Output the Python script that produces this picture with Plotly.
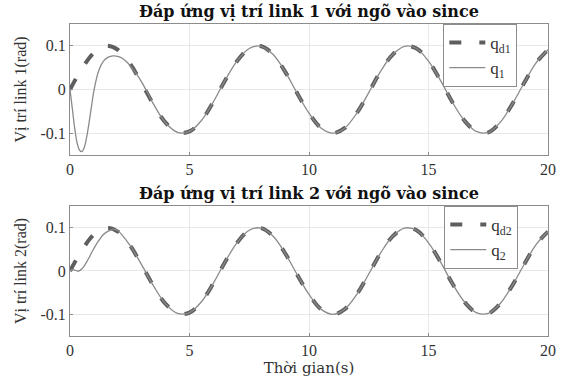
import plotly.graph_objects as go

# Desired trajectory (same for both links)
t_d = [0, 0.5, 1, 1.5, 2, 2.5, 3, 3.5, 4, 4.5, 5, 5.5, 6, 6.5, 7, 7.5, 8, 8.5, 9, 9.5,
       10, 10.5, 11, 11.5, 12, 12.5, 13, 13.5, 14, 14.5, 15, 15.5, 16, 16.5, 17, 17.5,
       18, 18.5, 19, 19.5, 20]
q_d = [0.000, 0.048, 0.084, 0.100, 0.091, 0.060, 0.014, -0.035, -0.076, -0.098, -0.096,
       -0.071, -0.028, 0.022, 0.066, 0.094, 0.099, 0.080, 0.041, -0.008, -0.054, -0.088,
       -0.100, -0.088, -0.054, -0.007, 0.042, 0.080, 0.099, 0.094, 0.065, 0.021, -0.029,
       -0.071, -0.096, -0.098, -0.075, -0.034, 0.015, 0.061, 0.091]

# Link 1 actual response
t_1 = [0, 0.1, 0.2, 0.3, 0.4, 0.5, 0.6, 0.7, 0.8, 0.9, 1.0, 1.2, 1.4, 1.6, 1.8, 2.0,
       2.2, 2.4, 2.6, 2.8, 3.0, 3.25, 3.5, 4, 4.5, 5, 5.5, 6, 6.5, 7, 7.5, 8, 8.5, 9, 9.5,
       10, 10.5, 11, 11.5, 12, 12.5, 13, 13.5, 14, 14.5, 15, 15.5, 16, 16.5, 17, 17.5,
       18, 18.5, 19, 19.5, 20]
q_1 = [0.000, -0.045, -0.090, -0.123, -0.139, -0.142, -0.132, -0.108, -0.075, -0.038,
       -0.003, 0.043, 0.065, 0.074, 0.077, 0.076, 0.071, 0.062, 0.049, 0.034, 0.017,
       -0.008, -0.034, -0.076, -0.098, -0.096, -0.071, -0.028, 0.022, 0.066, 0.094,
       0.099, 0.080, 0.041, -0.008, -0.054, -0.088, -0.100, -0.088, -0.054, -0.007,
       0.042, 0.080, 0.099, 0.094, 0.065, 0.021, -0.029, -0.071, -0.096, -0.098,
       -0.075, -0.034, 0.015, 0.061, 0.091]

# Link 2 actual response
t_2 = [0, 0.1, 0.2, 0.3, 0.4, 0.5, 0.6, 0.7, 0.8, 0.9, 1.0, 1.2, 1.4, 1.6, 1.8, 2.0,
       2.5, 3, 3.5, 4, 4.5, 5, 5.5, 6, 6.5, 7, 7.5, 8, 8.5, 9, 9.5,
       10, 10.5, 11, 11.5, 12, 12.5, 13, 13.5, 14, 14.5, 15, 15.5, 16, 16.5, 17, 17.5,
       18, 18.5, 19, 19.5, 20]
q_2 = [0.000, 0.003, 0.002, 0.000, 0.001, 0.005, 0.012, 0.021, 0.031, 0.042, 0.052,
       0.070, 0.084, 0.092, 0.096, 0.093, 0.060, 0.014, -0.035, -0.076, -0.098, -0.096,
       -0.071, -0.028, 0.022, 0.066, 0.094, 0.099, 0.080, 0.041, -0.008, -0.054, -0.088,
       -0.100, -0.088, -0.054, -0.007, 0.042, 0.080, 0.099, 0.094, 0.065, 0.021, -0.029,
       -0.071, -0.096, -0.098, -0.075, -0.034, 0.015, 0.061, 0.091]

x_ticks = [0, 5, 10, 15, 20]
y_ticks = [-0.1, 0, 0.1]
y_tick_text = ["-0.1", "0", "0.1"]

titles = ["Đáp ứng vị trí link 1 với ngõ vào since", "Đáp ứng vị trí link 2 với ngõ vào since"]
y_titles = ["Vị trí link 1(rad)", "Vị trí link 2(rad)"]
x_title = "Thời gian(s)"

FONT = "Liberation Serif"
WIDE_FONT = "DejaVu Serif"
DASH_COLOR = "#5e5e5e"
LINE_COLOR = "#8a8a8a"
TXT = "#333333"

fig = go.Figure()

dash_line = dict(color=DASH_COLOR, width=4, dash="12px,18px", shape="spline")
solid_line = dict(color=LINE_COLOR, width=1.3, shape="spline")

fig.add_trace(go.Scatter(x=t_d, y=q_d, mode="lines", name="q<sub>d1</sub>", line=dash_line,
                         xaxis="x", yaxis="y", legend="legend"))
fig.add_trace(go.Scatter(x=t_1, y=q_1, mode="lines", name="q<sub>1</sub>", line=solid_line,
                         xaxis="x", yaxis="y", legend="legend"))
fig.add_trace(go.Scatter(x=t_d, y=q_d, mode="lines", name="q<sub>d2</sub>", line=dash_line,
                         xaxis="x2", yaxis="y2", legend="legend2"))
fig.add_trace(go.Scatter(x=t_2, y=q_2, mode="lines", name="q<sub>2</sub>", line=solid_line,
                         xaxis="x2", yaxis="y2", legend="legend2"))

axis_common = dict(showline=True, linecolor="#8c8c8c", linewidth=1, mirror=True,
                   showgrid=True, gridcolor="#e8e8e8", gridwidth=1, zeroline=False,
                   ticks="inside", ticklen=3, tickcolor="#8c8c8c", automargin=False,
                   tickfont=dict(family=FONT, size=16, color=TXT))

legend_common = dict(xanchor="left", yanchor="top",
                     bgcolor="white", bordercolor="#8c8c8c", borderwidth=1,
                     font=dict(family=FONT, size=17, color=TXT),
                     tracegroupgap=0, itemwidth=36)

fig.update_layout(
    width=562, height=381,
    margin=dict(l=70, r=14, t=24, b=45),
    paper_bgcolor="white", plot_bgcolor="white",
    showlegend=True,
    xaxis=dict(domain=[0, 1], range=[0, 20], tickvals=x_ticks, anchor="y", **axis_common),
    yaxis=dict(domain=[0.58, 1], range=[-0.15, 0.15], tickvals=y_ticks, ticktext=y_tick_text,
               anchor="x",
               title=dict(text=y_titles[0], font=dict(family=FONT, size=16, color=TXT),
                          standoff=9),
               **axis_common),
    xaxis2=dict(domain=[0, 1], range=[0, 20], tickvals=x_ticks, anchor="y2",
                title=dict(text=x_title, font=dict(family=WIDE_FONT, size=15, color=TXT),
                           standoff=4),
                **axis_common),
    yaxis2=dict(domain=[0, 0.4167], range=[-0.15, 0.15], tickvals=y_ticks, ticktext=y_tick_text,
                anchor="x2",
                title=dict(text=y_titles[1], font=dict(family=FONT, size=16, color=TXT),
                           standoff=9),
                **axis_common),
    legend=dict(x=0.781, y=1.0, **legend_common),
    legend2=dict(x=0.783, y=0.4167, **legend_common),
    annotations=[
        dict(text="<b>" + titles[0] + "</b>", xref="paper", yref="paper", x=0.5, y=1.0,
             xanchor="center", yanchor="bottom", yshift=1, showarrow=False,
             font=dict(family=WIDE_FONT, size=16, color="#111111")),
        dict(text="<b>" + titles[1] + "</b>", xref="paper", yref="paper", x=0.5, y=0.4167,
             xanchor="center", yanchor="bottom", yshift=1, showarrow=False,
             font=dict(family=WIDE_FONT, size=16, color="#111111")),
    ],
)

fig.write_html("out.html", config={"displayModeBar": False},
               post_script="document.body.style.margin='0';document.body.style.overflow='hidden';")
